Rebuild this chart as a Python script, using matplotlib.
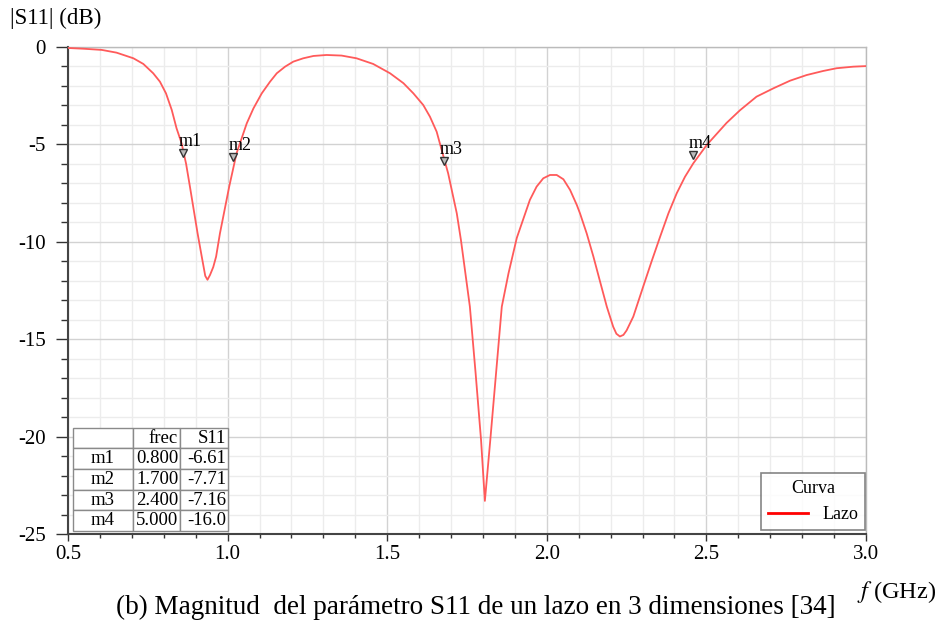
import matplotlib
matplotlib.use("Agg")
import matplotlib.pyplot as plt
from matplotlib.ticker import MultipleLocator, FormatStrFormatter

plt.rcParams['font.family'] = ['Liberation Serif', 'DejaVu Serif']
plt.rcParams['mathtext.fontset'] = 'stix'
plt.rcParams['axes.unicode_minus'] = False

# |S11| curve of the 3D loop
freq_ghz = [0.500, 0.550, 0.606, 0.652, 0.705, 0.736, 0.767, 0.788, 0.807, 0.825,
            0.840, 0.856, 0.870, 0.882, 0.906, 0.919, 0.930, 0.937, 0.945, 0.955,
            0.964, 0.976, 1.005, 1.028, 1.060, 1.081, 1.107, 1.133, 1.154, 1.180,
            1.206, 1.237, 1.269, 1.310, 1.357, 1.404, 1.456, 1.509, 1.551, 1.582,
            1.613, 1.634, 1.655, 1.665, 1.691, 1.718, 1.731, 1.759, 1.777, 1.794,
            1.806, 1.823, 1.841, 1.859, 1.880, 1.906, 1.947, 1.968, 1.989, 2.010,
            2.031, 2.052, 2.073, 2.094, 2.104, 2.125, 2.146, 2.167, 2.188, 2.208,
            2.218, 2.229, 2.240, 2.250, 2.271, 2.302, 2.328, 2.355, 2.381, 2.407,
            2.433, 2.459, 2.501, 2.563, 2.605, 2.657, 2.710, 2.762, 2.814, 2.866,
            2.908, 2.960, 3.000]
s11_db = [-0.05, -0.09, -0.15, -0.29, -0.58, -0.87, -1.35, -1.78, -2.38, -3.23,
          -4.17, -4.95, -6.00, -7.17, -9.57, -10.76, -11.75, -11.95, -11.70, -11.30,
          -10.76, -9.57, -7.17, -5.46, -3.92, -3.15, -2.38, -1.78, -1.35, -1.01,
          -0.75, -0.58, -0.46, -0.41, -0.44, -0.58, -0.87, -1.35, -1.86, -2.38,
          -2.98, -3.58, -4.35, -4.95, -6.49, -8.54, -9.91, -13.33, -16.75, -20.17,
          -23.30, -20.17, -16.75, -13.33, -11.62, -9.80, -7.85, -7.17, -6.74, -6.57,
          -6.57, -6.79, -7.34, -8.11, -8.54, -9.57, -10.76, -12.05, -13.33, -14.36,
          -14.72, -14.86, -14.78, -14.55, -13.84, -12.30, -11.02, -9.74, -8.54, -7.51,
          -6.66, -5.97, -5.03, -3.90, -3.25, -2.55, -2.12, -1.73, -1.44, -1.23,
          -1.09, -1.01, -0.98]

# markers drawn on the curve
marker_names = ["m1", "m2", "m3", "m4"]
marker_freq = [0.860, 1.017, 1.678, 2.459]
marker_db = [-5.44, -5.65, -5.85, -5.55]

# marker table contents
table_header = ["", "frec", "S11"]
table_frec = ["0.800", "1.700", "2.400", "5.000"]
table_s11 = ["-6.61", "-7.71", "-7.16", "-16.0"]

fig = plt.figure(figsize=(9.42, 6.26), dpi=100)
ax = fig.add_axes([68 / 942, 1 - 534 / 626, 798 / 942, 487 / 626])

ax.plot(freq_ghz, s11_db, color='#ff5a5a', lw=1.3, zorder=3)
legend_handle, = ax.plot([], [], color='red', lw=2.0, label='Lazo')

ax.plot(marker_freq, marker_db, linestyle='none', marker='v', markersize=6,
        markerfacecolor='#bbbbbb', markeredgecolor='#333333', markeredgewidth=1.0,
        zorder=4)
for name, fx, fy in zip(marker_names, marker_freq, marker_db):
    ax.annotate(name, (fx, fy), xytext=(-3, 2), textcoords='offset points',
                fontsize=13, ha='left', va='bottom', zorder=5)

ax.set_xlim(0.5, 3.0)
ax.set_ylim(-25, 0)
ax.xaxis.set_major_locator(MultipleLocator(0.5))
ax.xaxis.set_minor_locator(MultipleLocator(0.1))
ax.yaxis.set_major_locator(MultipleLocator(5))
ax.yaxis.set_minor_locator(MultipleLocator(1))
ax.xaxis.set_major_formatter(FormatStrFormatter('%.1f'))
ax.yaxis.set_major_formatter(FormatStrFormatter('%d'))

ax.grid(which='major', color='#d2d2d2', lw=1.0, zorder=0)
ax.grid(which='minor', color='#ececec', lw=1.0, zorder=0)
ax.set_axisbelow(True)

ax.tick_params(axis='y', which='major', direction='out', length=9, width=1.0,
               color='#333333', labelsize=15, pad=7)
ax.tick_params(axis='y', which='minor', direction='out', length=5, width=1.0,
               color='#333333')
ax.tick_params(axis='x', which='major', direction='out', length=5, width=1.0,
               color='#333333', labelsize=15, pad=3)
ax.tick_params(axis='x', which='minor', direction='out', length=3, width=1.0,
               color='#333333')

for side in ['left', 'bottom']:
    ax.spines[side].set_color('#444444')
    ax.spines[side].set_linewidth(1.5)
for side in ['top', 'right']:
    ax.spines[side].set_color('#bbbbbb')
    ax.spines[side].set_linewidth(1.0)

# marker table in the lower-left corner
rows = [table_header] + [[n, f, s] for n, f, s in zip(marker_names, table_frec, table_s11)]
tbl = ax.table(cellText=rows, bbox=[0.006, 0.006, 0.194, 0.212],
               colWidths=[0.39, 0.30, 0.31], zorder=6)
tbl.auto_set_font_size(False)
for (r, c), cell in tbl.get_celld().items():
    cell.set_facecolor('white')
    cell.set_edgecolor('#8a8a8a')
    cell.set_linewidth(1.0)
    cell.get_text().set_fontsize(13.5)
    cell.get_text().set_ha('center' if c == 0 else 'right')
    cell.PAD = 0.03

leg = ax.legend(handles=[legend_handle], title='Curva', loc='lower right',
                fontsize=13, title_fontsize=13, frameon=True, fancybox=False,
                borderaxespad=0.0, handlelength=2.2, borderpad=0.4,
                bbox_to_anchor=(0.999, 0.008))
leg.get_frame().set_edgecolor('#666666')
leg.get_frame().set_linewidth(1.2)
leg.set_zorder(6)

fig.text(10 / 942, 1 - 18 / 626, '|S11| (dB)', fontsize=16.5, va='center', ha='left')
fig.text(857 / 942, 1 - 592 / 626, '$f$ (GHz)', fontsize=17.5, va='center', ha='left')
fig.text(476 / 942, 1 - 607 / 626,
         '(b) Magnitud  del parámetro S11 de un lazo en 3 dimensiones [34]',
         fontsize=19.5, va='center', ha='center')

fig.savefig('out.png', dpi=100)
